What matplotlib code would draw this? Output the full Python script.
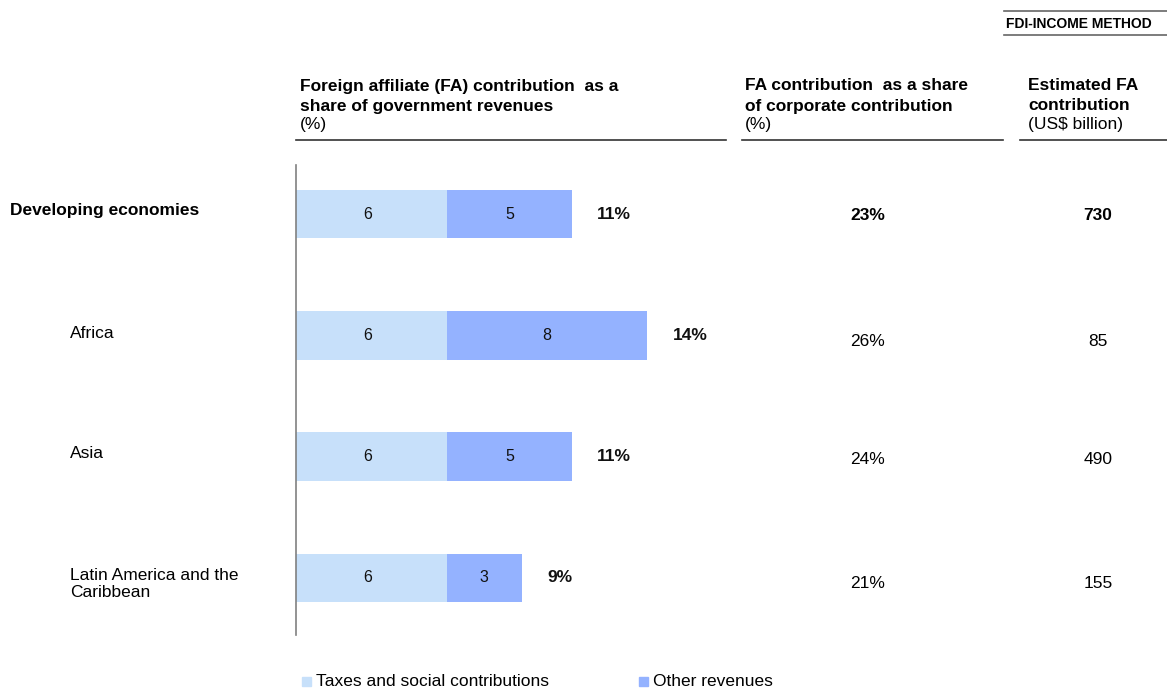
import matplotlib
matplotlib.use("Agg")
import matplotlib.pyplot as plt
from matplotlib.lines import Line2D
from matplotlib.patches import Rectangle

plt.rcParams['font.family'] = ['Liberation Sans', 'DejaVu Sans']

regions = ["Developing economies", "Africa", "Asia", "Latin America and the\nCaribbean"]
taxes = [6, 6, 6, 6]
other = [5, 8, 5, 3]
totals = ["11%", "14%", "11%", "9%"]
corp_share = ["23%", "26%", "24%", "21%"]
fa_contrib = ["730", "85", "490", "155"]
bold_row = [True, False, False, False]

c_light = "#C7E0FA"
c_dark = "#94B2FF"
FS = 12.5

W, H = 1167, 690
fig = plt.figure(figsize=(W / 100, H / 100), dpi=100)

def fx(x):
    return x / W

def fy(y):
    return 1 - y / H

# bar axes: x 296..726 px, y 165..635 px
ax = fig.add_axes([fx(296), fy(635), fx(726) - fx(296), fy(165) - fy(635)])
ax.set_xlim(0, 430 / 25.1)
ax.set_ylim(3.47, -0.405)
ypos = list(range(len(regions)))
ax.barh(ypos, taxes, height=0.4, color=c_light, edgecolor='none')
ax.barh(ypos, other, left=taxes, height=0.4, color=c_dark, edgecolor='none')
for i in ypos:
    ax.text(taxes[i] / 2 - 0.15, i, str(taxes[i]), ha='center', va='center', fontsize=11.5, color='#111111')
    ax.text(taxes[i] + other[i] / 2, i, str(other[i]), ha='center', va='center', fontsize=11.5, color='#111111')
    ax.text(taxes[i] + other[i] + 1.0, i, totals[i], ha='left', va='center', fontsize=FS,
            fontweight='bold', color='#111111')
for s in ['top', 'right', 'bottom']:
    ax.spines[s].set_visible(False)
ax.spines['left'].set_color('#808080')
ax.spines['left'].set_linewidth(1.2)
ax.set_xticks([])
ax.set_yticks([])
ax.patch.set_alpha(0)

# row labels and columns
label_y = [210, 333, 453, 584]
val_y = [215, 341, 460, 583]
for i, r in enumerate(regions):
    w = 'bold' if bold_row[i] else 'normal'
    lx = 10 if bold_row[i] else 70
    fig.text(fx(lx), fy(label_y[i]), r, ha='left', va='center', fontsize=FS, fontweight=w, linespacing=1.1)
    fig.text(fx(868), fy(val_y[i]), corp_share[i], ha='center', va='center', fontsize=FS, fontweight=w)
    fig.text(fx(1098), fy(val_y[i]), fa_contrib[i], ha='center', va='center', fontsize=FS, fontweight=w)

# headers
def header(x, l1, l2, l3):
    fig.text(fx(x), fy(86), l1, ha='left', va='center', fontsize=FS, fontweight='bold')
    fig.text(fx(x), fy(106), l2, ha='left', va='center', fontsize=FS, fontweight='bold')
    fig.text(fx(x), fy(125), l3, ha='left', va='center', fontsize=FS)

header(300, "Foreign affiliate (FA) contribution  as a", "share of government revenues", "(%)")
header(745, "FA contribution  as a share", "of corporate contribution", "(%)")
header(1028, "Estimated FA", "contribution", "(US$ billion)")

for x0, x1 in [(296, 726), (742, 1003), (1020, 1167)]:
    fig.add_artist(Line2D([fx(x0), fx(x1)], [fy(140), fy(140)], color='#333333', lw=1.2))

# method box
for yy in [11, 35]:
    fig.add_artist(Line2D([fx(1004), fx(1167)], [fy(yy), fy(yy)], color='#666666', lw=1.2))
fig.text(fx(1006), fy(24), "FDI-INCOME METHOD", ha='left', va='center', fontsize=10, fontweight='bold')

# legend
fig.add_artist(Rectangle((fx(302), fy(686)), fx(9), fy(0) - fy(9), color=c_light, transform=fig.transFigure))
fig.text(fx(316), fy(682), "Taxes and social contributions", ha='left', va='center', fontsize=FS)
fig.add_artist(Rectangle((fx(639), fy(686)), fx(9), fy(0) - fy(9), color=c_dark, transform=fig.transFigure))
fig.text(fx(653), fy(682), "Other revenues", ha='left', va='center', fontsize=FS)

fig.savefig("out.png", dpi=100)
